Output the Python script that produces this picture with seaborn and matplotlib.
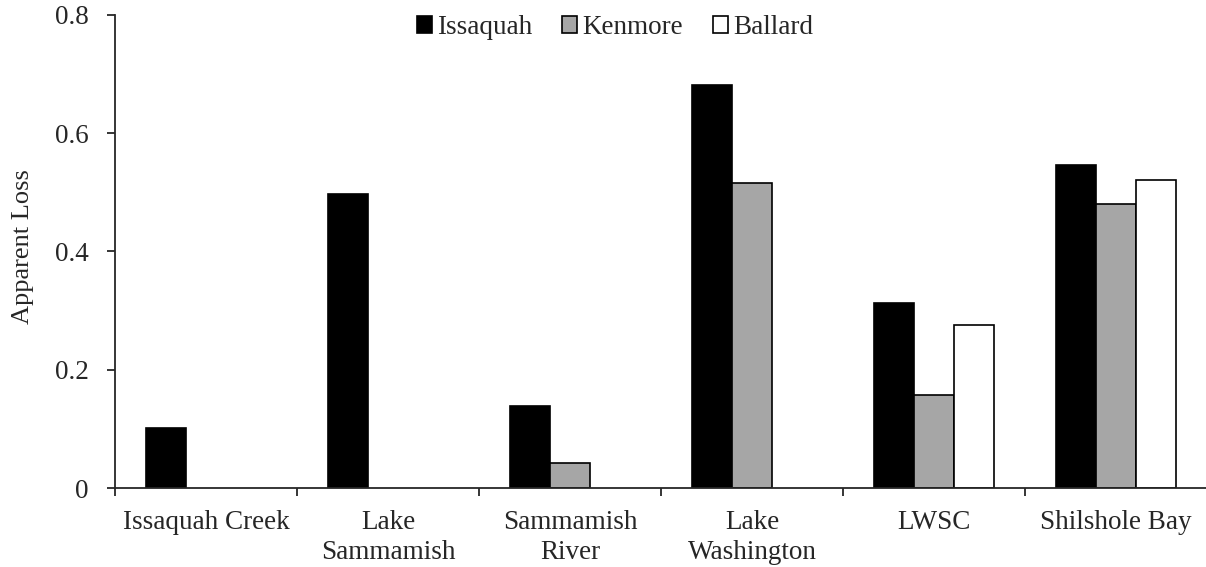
import numpy as np
import pandas as pd
import matplotlib
matplotlib.use("Agg")
import matplotlib.pyplot as plt
import seaborn as sns

# values
sites = ["Issaquah Creek", "Lake\nSammamish", "Sammamish\nRiver",
         "Lake\nWashington", "LWSC", "Shilshole Bay"]
issaquah = [0.102, 0.497, 0.139, 0.681, 0.313, 0.546]
kenmore = [np.nan, np.nan, 0.043, 0.516, 0.157, 0.481]
ballard = [np.nan, np.nan, np.nan, np.nan, 0.275, 0.521]
groups = ["Issaquah", "Kenmore", "Ballard"]
colors = ["#000000", "#A6A6A6", "#FFFFFF"]
yticks = [0, 0.2, 0.4, 0.6, 0.8]
ytick_labels = ["0", "0.2", "0.4", "0.6", "0.8"]

rows = []
for name, vals in zip(groups, [issaquah, kenmore, ballard]):
    for site, v in zip(sites, vals):
        rows.append({"site": site, "group": name, "loss": v})
df = pd.DataFrame(rows)

sns.set_style("ticks")
plt.rcParams['font.family'] = ['Liberation Serif', 'DejaVu Serif']

fig = plt.figure(figsize=(12.06, 5.67), dpi=100)
ax = fig.add_axes([0.0954, 0.139, 0.9055, 0.835])

sns.barplot(data=df, x="site", y="loss", hue="group", order=sites,
            hue_order=groups, palette=colors, width=0.66,
            edgecolor="black", linewidth=1.2, saturation=1, ax=ax,
            errorbar=None)

ax.set_ylim(0, 0.8)
ax.set_xlim(-0.5, len(sites) - 0.5)
ax.set_yticks(yticks)
ax.set_yticklabels(ytick_labels, fontsize=19.5)
ax.set_xticks(range(len(sites)))
ax.set_xticklabels(sites, fontsize=19.5, linespacing=1.25)
ax.set_xticks(np.arange(-0.5, len(sites), 1.0), minor=True)
ax.tick_params(axis='x', which='major', length=0, pad=16)
ax.tick_params(axis='x', which='minor', length=6, width=1.3, direction='out')
ax.tick_params(axis='y', length=6, width=1.3, direction='out', pad=13)
ax.set_xlabel("")
ax.set_ylabel("Apparent Loss", fontsize=19)
ax.yaxis.set_label_coords(-0.074, 0.51)

sns.despine(ax=ax)
for s in ["left", "bottom"]:
    ax.spines[s].set_linewidth(1.3)

handles, labels = ax.get_legend_handles_labels()
ax.legend(handles, labels, loc="center", bbox_to_anchor=(0.458, 0.973),
          ncol=3, frameon=False, fontsize=19.5, handlelength=0.55,
          handleheight=0.55, handletextpad=0.2, columnspacing=1.1,
          borderpad=0, borderaxespad=0)

plt.savefig("out.png", dpi=100)
plt.close()
